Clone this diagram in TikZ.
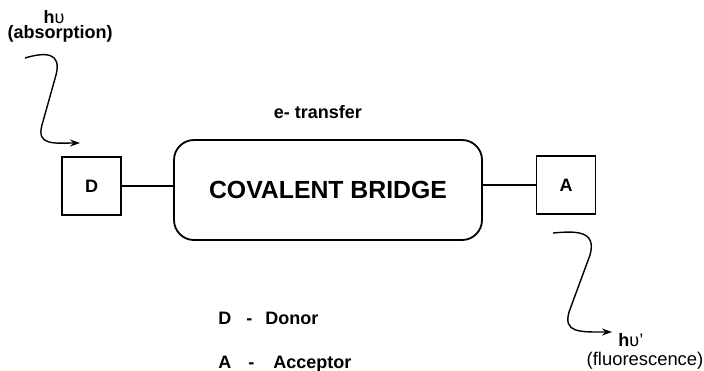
\documentclass[tikz,border=0pt]{standalone}
\usepackage{fontspec}
\setmainfont{Liberation Sans}
\usetikzlibrary{arrows.meta}
\begin{document}
\begin{tikzpicture}[x=0.5pt,y=-0.5pt,
  box/.style={draw,line width=0.9pt,minimum width=29.5pt,minimum height=29pt,inner sep=0pt,font=\bfseries\fontsize{9}{10}\selectfont},
  bridgebox/.style={draw,line width=0.9pt,rounded corners=10pt,minimum width=154pt,minimum height=50pt,inner sep=0pt,font=\bfseries\fontsize{12.4}{14}\selectfont},
  link/.style={line width=0.8pt},
  wave/.style={line width=0.7pt,-{Stealth[length=5pt,width=3.5pt]}},
  lbl/.style={inner sep=0pt,font=\bfseries\fontsize{9}{10}\selectfont},
  key/.style={lbl,anchor=base west}]
\useasboundingbox (0,0) rectangle (704,370);

% donor, bridge, acceptor
\node[box] (D) at (91.5,186) {D};
\node[bridgebox] (B) at (328,190) {COVALENT BRIDGE};
\node[box] (A) at (566,185) {A};
\draw[link] (D.east) -- (D.east -| B.west);
\draw[link] (A.west -| B.east) -- (A.west);

\node[lbl] (et) at (318,112) {e- transfer};

% incoming photon
\node[lbl] (hv1) at (54,17) {h\textmd{υ}};
\node[lbl] (abs) at (60,34) {(absorption)};
\coordinate (w1) at (25,58);
\coordinate (w1e) at (80,143);
\draw[wave] (w1) .. controls (45,52) and (62,52) .. (56,75)
  -- (42,125) .. controls (36,146) and (55,143) .. (w1e);

% emitted photon
\coordinate (w2) at (553,233);
\coordinate (w2e) at (612,332);
\draw[wave] (w2) .. controls (575,231) and (597,230) .. (590,255)
  -- (569,312) .. controls (563,333) and (580,332) .. (w2e);
\node[lbl,anchor=west] (hv2) at (618,340) {h\textmd{υ}\textmd{'}};
\node[inner sep=0pt,font=\fontsize{9.2}{10}\selectfont] (flu) at (645,361) {(fluorescence)};

% legend
\node[key] (l1) at (218,324) {D};
\node[key] (l1d) at (246,324) {-};
\node[key] (l1t) at (265,324) {Donor};
\node[key] (l2) at (218,368) {A};
\node[key] (l2d) at (248,368) {-};
\node[key] (l2t) at (273,368) {Acceptor};
\end{tikzpicture}
\end{document}
